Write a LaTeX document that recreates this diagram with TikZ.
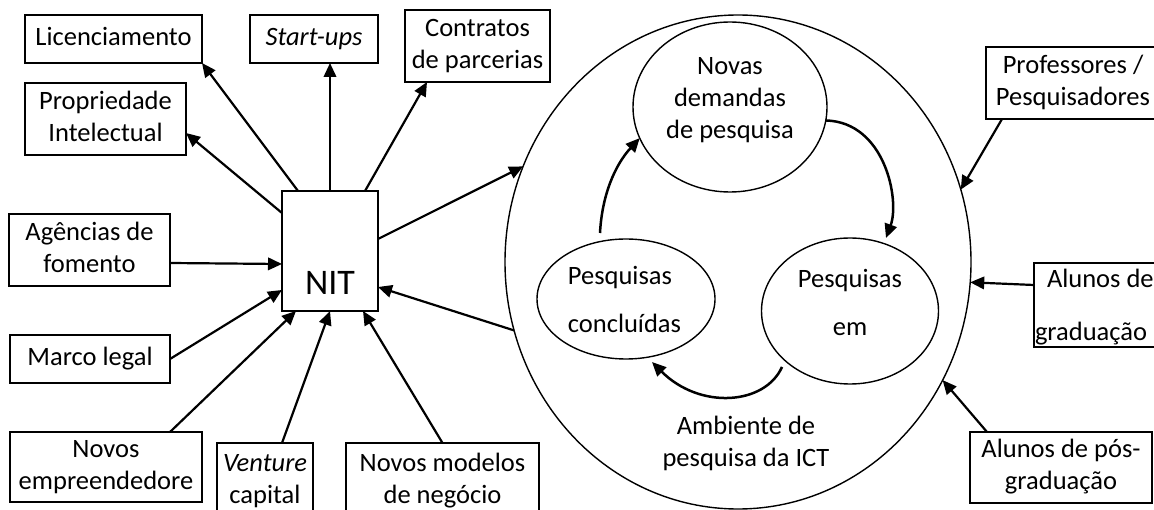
\documentclass[tikz,border=0pt]{standalone}
\usepackage{fontspec}
\setmainfont{Carlito}
\usetikzlibrary{arrows.meta,calc,shapes.geometric}
\newcommand{\mystrut}{\rule[-9.6pt]{0pt}{32pt}}
\begin{document}
\begin{tikzpicture}[x=1pt,y=-1pt,
  box/.style={draw,line width=1.6pt,inner sep=0pt,outer sep=0pt,align=center,
    font=\fontsize{26.5}{32}\selectfont},
  arr/.style={line width=2.2pt,-{Triangle[length=14pt,width=12.5pt]}},
  carr/.style={line width=2.5pt,-{Triangle[length=14pt,width=12.5pt]}},
  ell/.style={draw,ellipse,line width=1.4pt,inner sep=0pt,outer sep=0pt},
  txt/.style={inner sep=0pt,outer sep=0pt,align=center,font=\fontsize{26.5}{32}\selectfont},
  wtxt/.style={inner sep=0pt,outer sep=0pt,align=center,font=\fontsize{26.5}{48}\selectfont}]
\useasboundingbox (0,0) rectangle (1154,510);
\clip (0,0) rectangle (1154,510);

% left boxes
\node[box,minimum width=177pt,minimum height=48pt] (lic) at (113.5,39) {\mystrut Licenciamento};
\node[box,minimum width=128pt,minimum height=48pt] (start) at (314,39) {\mystrut\textit{Start-ups}};
\node[box,minimum width=145pt,minimum height=72pt] (contr) at (477.5,46) {\mystrut Contratos\\\mystrut de parcerias};
\node[box,minimum width=161pt,minimum height=72pt] (prop) at (105.5,119) {\mystrut Propriedade\\\mystrut Intelectual};
\node[box,minimum width=161pt,minimum height=72pt] (ag) at (89.5,250) {\mystrut Agências de\\\mystrut fomento};
\node[box,minimum width=160pt,minimum height=48pt] (marco) at (90,359) {\mystrut Marco legal};
\node[box,minimum width=192pt,minimum height=70pt] (emp) at (106,467) {\mystrut Novos\\\mystrut empreendedore};
\node[box,minimum width=96pt,minimum height=77pt] (vent) at (265,481.5) {\mystrut\textit{Venture}\\\mystrut capital};
\node[box,minimum width=193pt,minimum height=77pt] (mod) at (442.5,481.5) {\mystrut Novos modelos\\\mystrut de negócio};

% NIT
\node[box,minimum width=96pt,minimum height=120pt] (nit) at (330,251) {};
\node[inner sep=0pt,font=\fontsize{36}{40}\selectfont] (nitt) at (330,283) {NIT};

% ICT environment
\node[ell,minimum width=466pt,minimum height=494pt] (ict) at (738,262) {};
\node[ell,minimum width=194pt,minimum height=170pt] (nova) at (730,107) {};
\node[txt] (novat) at (730,100) {\mystrut Novas\\\mystrut demandas\\\mystrut de pesquisa};
\node[ell,minimum width=178pt,minimum height=120pt] (concl) at (626,299) {};
\node[wtxt,align=left] (conclt) at (624.5,302) {\mystrut Pesquisas\\\mystrut concluídas};
\node[ell,minimum width=177pt,minimum height=146pt] (em) at (850,311) {};
\node[wtxt] (emt) at (850,305) {\mystrut Pesquisas\\\mystrut em};
\node[txt] (amb) at (746,444) {\mystrut Ambiente de\\\mystrut pesquisa da ICT};

% right boxes
\node[box,minimum width=174pt,minimum height=72pt] (prof) at (1073,83) {\mystrut Professores /\\\mystrut Pesquisadores};
\node[box,minimum width=136pt,minimum height=84pt] (grad) at (1102,305) {};
\begin{scope}
  \clip (grad.south west) rectangle (grad.north east);
  \node[txt,anchor=base west] (gradt1) at (1047,288) {Alunos de};
  \node[txt,anchor=base west] (gradt2) at (1035,341) {graduação};
\end{scope}
\node[box,minimum width=182pt,minimum height=71pt] (pos) at (1061,467.5) {\mystrut Alunos de pós-\\\mystrut graduação};

% arrows around NIT
\draw[arr] ($(nit.north west)+(16,0)$) -- (lic.south east);
\draw[arr] (nit.north) -- (nit.north |- start.south);
\draw[arr] ($(nit.north east)+(-13,0)$) -- ($(contr.south west)+(22,0)$);
\draw[arr] ($(nit.north west)+(0,22)$) -- ($(prop.east)+(0,14)$);
\draw[arr] ($(ag.east)+(0,13)$) -- ($(nit.west)+(0,13)$);
\draw[arr] (marco.east) -- ($(nit.south west)+(0,-21)$);
\draw[arr] ($(emp.north east)+(-32,0)$) -- ($(nit.south west)+(14,0)$);
\draw[arr] ($(vent.north west)+(65,0)$) -- (nit.south);
\draw[arr] (mod.north) -- ($(nit.south east)+(-15,0)$);
\draw[arr] (ict.197) -- ($(nit.east)+(0,36)$);
\draw[arr] ($(nit.east)+(0,-12)$) -- (ict.156.5);

% arrows into ICT
\draw[arr] ($(prof.south west)+(16,0)$) -- (ict.18.4);
\draw[arr] ($(grad.west)+(0,-20)$) -- (ict.-5.6);
\draw[arr] ($(pos.north west)+(17,0)$) -- (ict.-30.9);

% cycle
\draw[carr] ($(concl.north)+(-26,-6)$) .. controls (602,195) and (615,165) .. (nova.199);
\draw[carr] (nova.-8) .. controls (885,122) and (900,200) .. ($(em.north)+(36,0)$);
\draw[carr] ($(em.center)+(-68,56)$) .. controls (765,405) and (700,410) .. ($(concl.center)+(26,63)$);
\end{tikzpicture}
\end{document}
